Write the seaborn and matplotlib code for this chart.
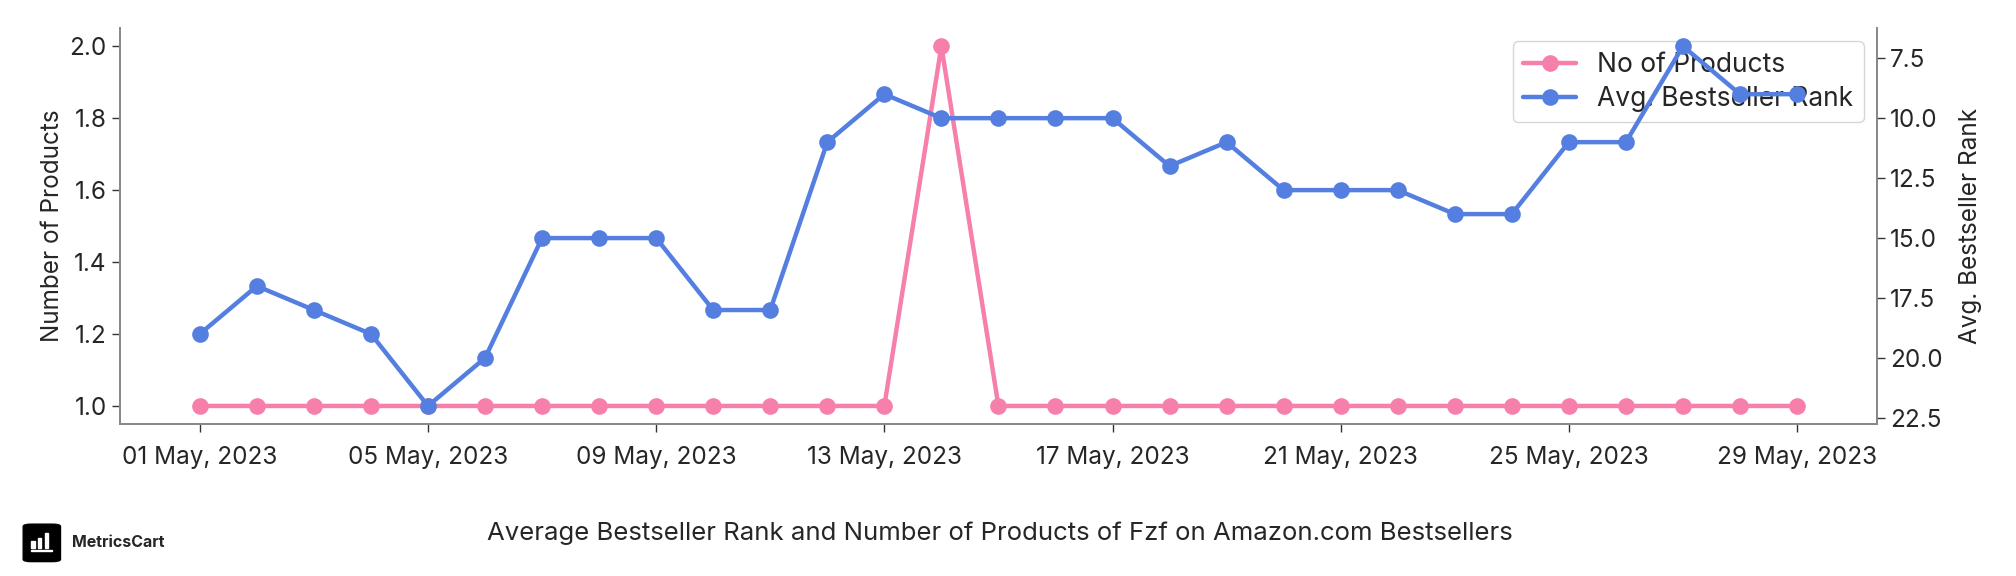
import matplotlib
matplotlib.use("Agg")
import matplotlib.pyplot as plt
import matplotlib.dates as mdates
from matplotlib.ticker import MultipleLocator, FormatStrFormatter
from matplotlib.patches import FancyBboxPatch, Rectangle
import seaborn as sns
import pandas as pd

dates = pd.date_range("2023-05-01", "2023-05-29", freq="D")
no_of_products = [1, 1, 1, 1, 1, 1, 1, 1, 1, 1, 1, 1, 1, 2, 1, 1, 1, 1, 1, 1, 1, 1, 1, 1, 1, 1, 1, 1, 1]
avg_rank = [19, 17, 18, 19, 22, 20, 15, 15, 15, 18, 18, 11, 9, 10, 10, 10, 10, 12, 11, 13, 13, 13, 14, 14, 11, 11, 7, 9, 9]

title = "Average Bestseller Rank and Number of Products of Fzf on Amazon.com Bestsellers"
pink = "#F77FAB"
blue = "#547FE0"

sns.set_theme(style="white")
plt.rcParams["font.family"] = ["Inter", "DejaVu Sans"]

df = pd.DataFrame({"date": dates, "products": no_of_products, "rank": avg_rank})

fig = plt.figure(figsize=(20.16, 5.76), dpi=100)
ax1 = fig.add_axes([0.0595, 0.264, 0.8715, 0.687])
ax2 = ax1.twinx()

sns.lineplot(data=df, x="date", y="products", ax=ax1, color=pink, marker="o",
             markersize=12, linewidth=3.2, markeredgewidth=0, label="No of Products", legend=False)
sns.lineplot(data=df, x="date", y="rank", ax=ax2, color=blue, marker="o",
             markersize=12, linewidth=3.2, markeredgewidth=0, label="Avg. Bestseller Rank", legend=False)

ax2.invert_yaxis()
ax1.set_ylabel("Number of Products", fontsize=17.5)
ax2.set_ylabel("Avg. Bestseller Rank", fontsize=17.5, labelpad=12)
ax1.set_xlabel("")
ax2.set_xlabel("")

ax1.xaxis.set_major_locator(mdates.DayLocator(bymonthday=range(1, 32, 4)))
ax1.xaxis.set_major_formatter(mdates.DateFormatter("%d %b, %Y"))
ax1.yaxis.set_major_locator(MultipleLocator(0.2))
ax1.yaxis.set_major_formatter(FormatStrFormatter("%.1f"))
ax2.yaxis.set_major_locator(MultipleLocator(2.5))
ax2.yaxis.set_major_formatter(FormatStrFormatter("%.1f"))

for ax in (ax1, ax2):
    ax.tick_params(axis="both", labelsize=17.5, length=6, width=1, color="#333333")
    ax.spines["top"].set_visible(False)
    for s in ("left", "right", "bottom"):
        ax.spines[s].set_color("#888888")
        ax.spines[s].set_linewidth(1.3)
ax1.tick_params(axis="x", bottom=True, pad=10)
ax1.tick_params(axis="y", left=True)
ax2.tick_params(axis="y", right=True)

h1, l1 = ax1.get_legend_handles_labels()
h2, l2 = ax2.get_legend_handles_labels()
leg = ax1.legend(h1 + h2, l1 + l2, loc="upper right", fontsize=19, frameon=True,
                 handlelength=2.0, borderpad=0.4, labelspacing=0.3)
leg.get_frame().set_edgecolor("#cccccc")

fig.text(0.496, 0.075, title, ha="center", va="center", fontsize=18.5)

# logo
logo = FancyBboxPatch((0.0115, 0.025), 0.0185, 0.065, boxstyle="round,pad=0.0,rounding_size=0.004",
                      transform=fig.transFigure, facecolor="black", edgecolor="black")
fig.patches.append(logo)
for i, hgt in enumerate([0.012, 0.018, 0.026]):
    fig.patches.append(Rectangle((0.0155 + i * 0.0033, 0.048), 0.0017, hgt,
                                 transform=fig.transFigure, facecolor="white"))
fig.patches.append(Rectangle((0.0155, 0.043), 0.0105, 0.003, transform=fig.transFigure, facecolor="white"))
fig.text(0.0355, 0.058, "MetricsCart", ha="left", va="center", fontsize=11.5, fontweight="bold")

fig.savefig("out.png", dpi=100)
